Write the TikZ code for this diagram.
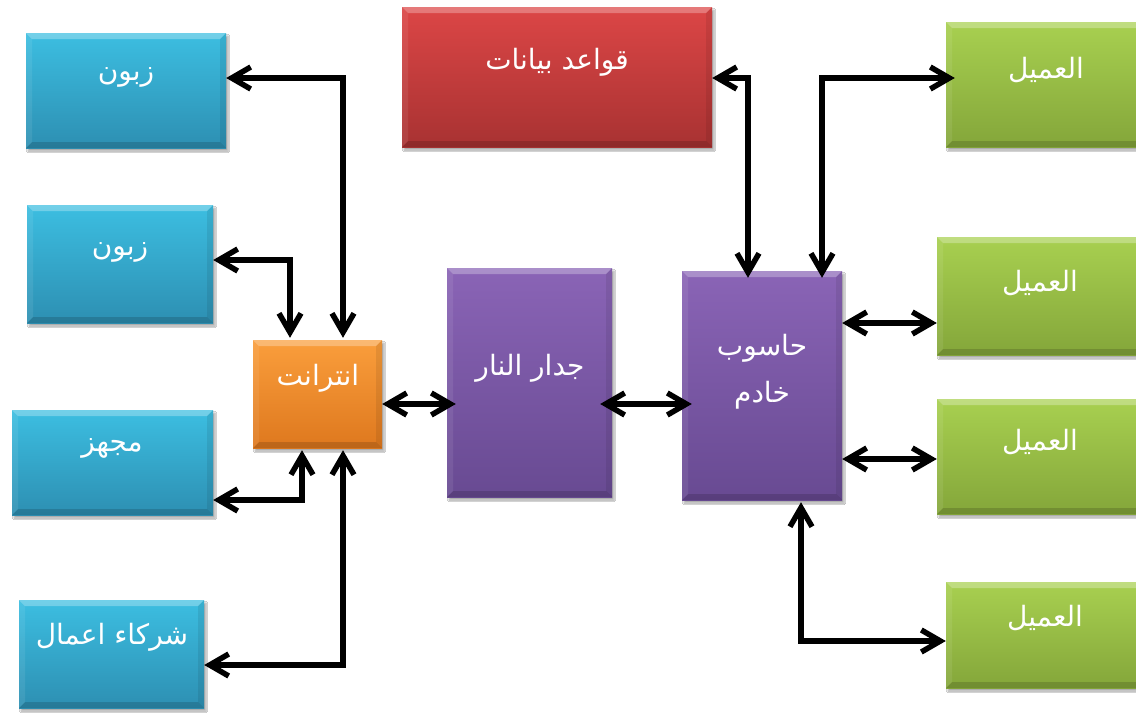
\documentclass[tikz,border=0pt]{standalone}
\usepackage{fontspec}
\newfontfamily\arabicfont[Script=Arabic]{DejaVu Sans}
\TeXXeTstate=1
\usetikzlibrary{arrows.meta,shadows.blur,calc}

\definecolor{bluetop}{RGB}{60,190,225}
\definecolor{bluebot}{RGB}{45,143,178}
\definecolor{orangetop}{RGB}{250,158,60}
\definecolor{orangebot}{RGB}{222,120,30}
\definecolor{redtop}{RGB}{220,70,70}
\definecolor{redbot}{RGB}{168,50,50}
\definecolor{purpletop}{RGB}{138,100,182}
\definecolor{purplebot}{RGB}{104,74,146}
\definecolor{greentop}{RGB}{168,208,80}
\definecolor{greenbot}{RGB}{132,166,58}

\tikzset{
  x=1pt, y=-1pt,
  panel/.style={rectangle, inner sep=0pt, draw=none,
    blur shadow={shadow xshift=2pt, shadow yshift=-3pt, shadow blur steps=6, shadow opacity=35},
    path picture={
      \fill[white,opacity=0.28] (path picture bounding box.north west) -- (path picture bounding box.north east)
        -- ++(-6pt,-6pt) -- ($(path picture bounding box.north west)+(6pt,-6pt)$) -- cycle;
      \fill[black,opacity=0.15] (path picture bounding box.south west) -- (path picture bounding box.south east)
        -- ++(-6pt,6pt) -- ($(path picture bounding box.south west)+(6pt,6pt)$) -- cycle;
      \fill[black,opacity=0.08] (path picture bounding box.north east) -- (path picture bounding box.south east)
        -- ++(-6pt,6pt) -- ($(path picture bounding box.north east)+(-6pt,-6pt)$) -- cycle;
      \fill[white,opacity=0.08] (path picture bounding box.north west) -- (path picture bounding box.south west)
        -- ++(6pt,6pt) -- ($(path picture bounding box.north west)+(6pt,-6pt)$) -- cycle;
    }},
  bluebox/.style={panel, top color=bluetop, bottom color=bluebot},
  orangebox/.style={panel, top color=orangetop, bottom color=orangebot},
  redbox/.style={panel, top color=redtop, bottom color=redbot},
  purplebox/.style={panel, top color=purpletop, bottom color=purplebot},
  greenbox/.style={panel, top color=greentop, bottom color=greenbot},
  lbl/.style={text=white, font=\arabicfont\fontsize{28}{34}\selectfont, inner sep=0pt, align=center},
  conn/.style={line width=5.5pt, draw=black,
    {Straight Barb[length=19pt,width=22pt]}-{Straight Barb[length=19pt,width=22pt]}},
}

% box from corner to corner
\newcommand{\panelbox}[6]{%
  \node[#6, minimum width={(#4)-(#2)}, minimum height={(#5)-(#3)}] (#1) at ({((#2)+(#4))/2},{((#3)+(#5))/2}) {};}

\begin{document}
\begin{tikzpicture}
\useasboundingbox (0,0) rectangle (1136,715);
\clip (0,0) rectangle (1136,715);
\fill[white] (0,0) rectangle (1136,715);

% customers and partners
\panelbox{b1}{26}{33}{226}{148}{bluebox}
\panelbox{b2}{27}{205}{213}{323}{bluebox}
\panelbox{b3}{12}{410}{213}{515}{bluebox}
\panelbox{b4}{19}{600}{204}{708}{bluebox}
% internet
\panelbox{inet}{253}{340}{382}{448}{orangebox}
% database
\panelbox{db}{402}{7}{712}{147}{redbox}
% firewall and server
\panelbox{fw}{447}{268}{612}{497}{purplebox}
\panelbox{srv}{682}{271}{842}{500}{purplebox}
% clients
\panelbox{g1}{946}{22}{1160}{147}{greenbox}
\panelbox{g2}{937}{237}{1160}{355}{greenbox}
\panelbox{g3}{937}{399}{1160}{514}{greenbox}
\panelbox{g4}{946}{582}{1160}{688}{greenbox}

% labels
\node[lbl] (tb1) at (126,77) {\beginR زبون\endR};
\node[lbl] (tb2) at (120,252) {\beginR زبون\endR};
\node[lbl] (tb3) at (112,448) {\beginR مجهز\endR};
\node[lbl] (tb4) at (112,637) {\beginR شركاء اعمال\endR};
\node[lbl] (tinet) at (318,378) {\beginR انترانت\endR};
\node[lbl] (tdb) at (557,62) {\beginR قواعد بيانات\endR};
\node[lbl] (tfw) at (530,368) {\beginR جدار النار\endR};
\node[lbl, font=\arabicfont\fontsize{28}{47}\selectfont] (tsrv) at (762,372) {\beginR حاسوب\endR\\\beginR خادم\endR};
\node[lbl] (tg1) at (1046,70) {\beginR العميل\endR};
\node[lbl] (tg2) at (1040,283) {\beginR العميل\endR};
\node[lbl] (tg3) at (1040,442) {\beginR العميل\endR};
\node[lbl] (tg4) at (1045,618) {\beginR العميل\endR};

% bends of the connectors
\coordinate (k1) at (343,78);
\coordinate (k2) at (290,260);
\coordinate (k3) at (302,500);
\coordinate (k4) at (343,665);
\coordinate (k5) at (420,404);
\coordinate (k7) at (748,78);
\coordinate (k8) at (822,78);
\coordinate (k9) at (890,323);
\coordinate (k10) at (890,459);
\coordinate (k11) at (801,641);

% connectors
\draw[conn] (b1.east |- k1) -- (k1) -- ([yshift=2pt]inet.north -| k1);
\draw[conn] (b2.east |- k2) -- (k2) -- ([yshift=2pt]inet.north -| k2);
\draw[conn] (b3.east |- k3) -- (k3) -- ([yshift=-2pt]inet.south -| k3);
\draw[conn] (b4.east |- k4) -- (k4) -- ([yshift=-2pt]inet.south -| k4);
\draw[conn] (inet.east |- k5) -- ([xshift=9pt]fw.west |- k5);
\draw[conn] ([xshift=-12pt]fw.east |- k5) -- ([xshift=10pt]srv.west |- k5);
\draw[conn] (db.east |- k7) -- (k7) -- ([yshift=-7pt]srv.north -| k7);
\draw[conn] ([yshift=-7pt]srv.north -| k8) -- (k8) -- ([xshift=9pt]g1.west |- k8);
\draw[conn] (srv.east |- k9) -- (g2.west |- k9);
\draw[conn] (srv.east |- k10) -- (g3.west |- k10);
\draw[conn] ([yshift=-2pt]srv.south -| k11) -- (k11) -- (g4.west |- k11);
\end{tikzpicture}
\end{document}
